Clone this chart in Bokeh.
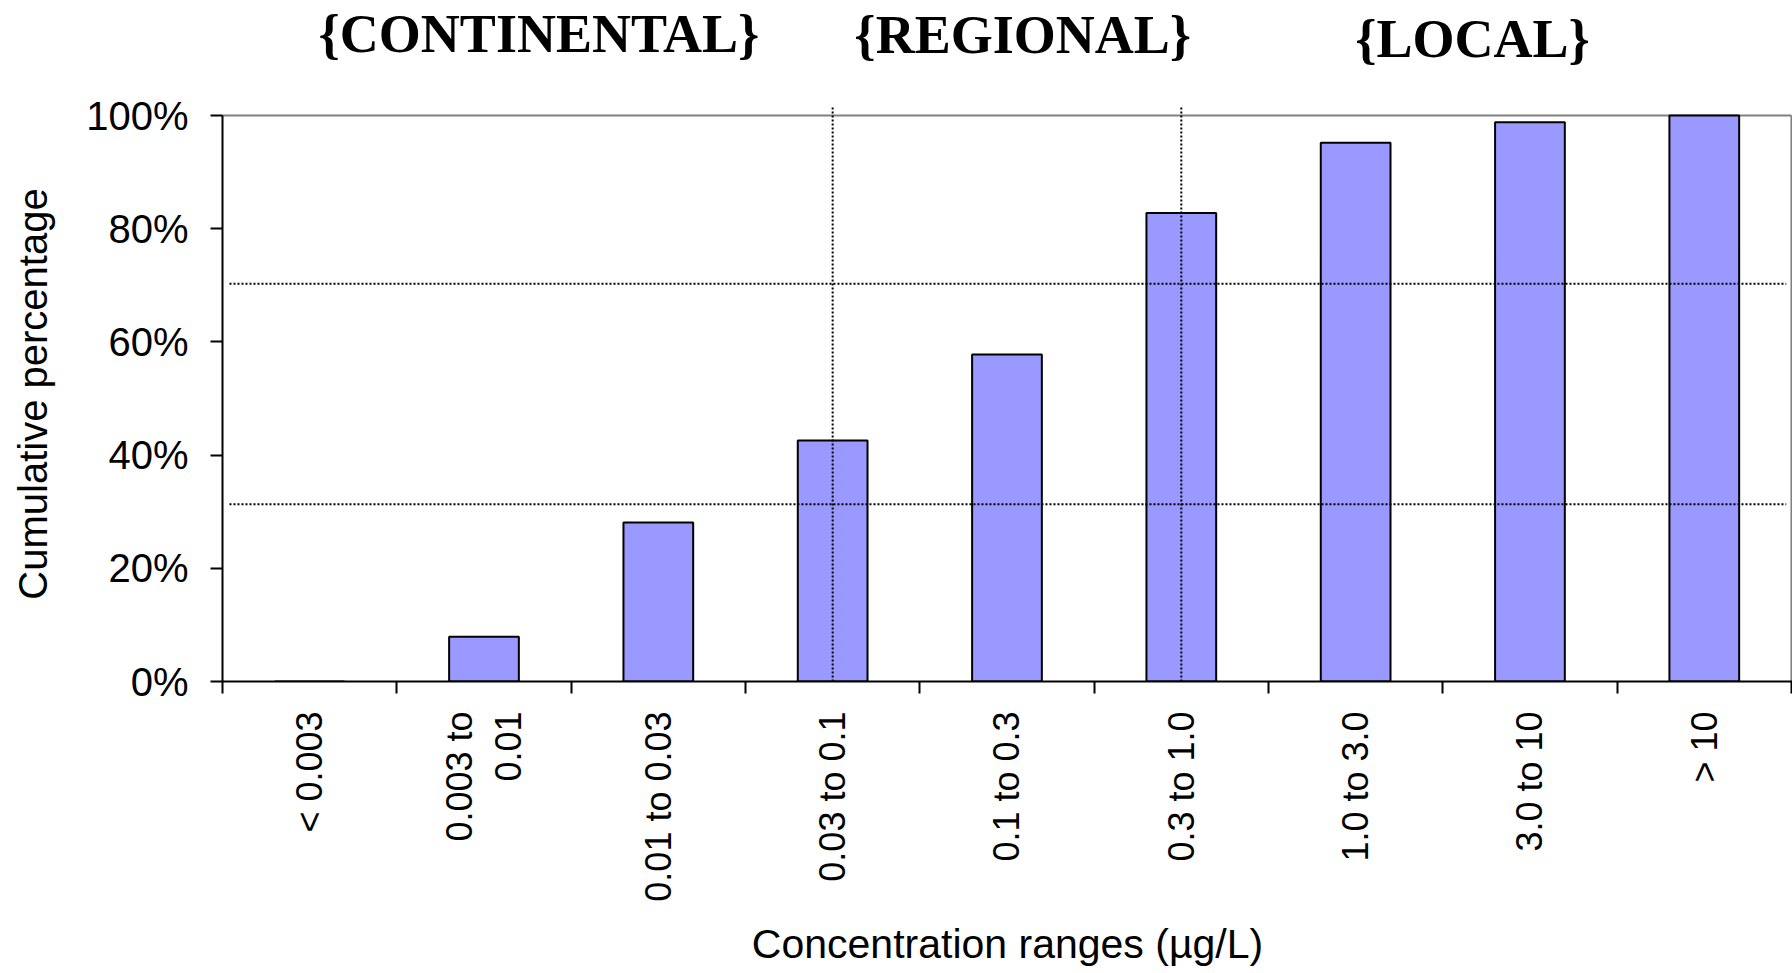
import math
from bokeh.plotting import figure
from bokeh.layouts import column
from bokeh.models import Range1d, FixedTicker, NumeralTickFormatter, ColumnDataSource
from bokeh.core.properties import value
from bokeh.embed import file_html
from bokeh.resources import INLINE

# ---------------- data ----------------
categories = ["< 0.003", "0.003 to\n0.01", "0.01 to 0.03", "0.03 to 0.1", "0.1 to 0.3",
              "0.3 to 1.0", "1.0 to 3.0", "3.0 to 10", "> 10"]
cumulative = [0.0, 0.079, 0.281, 0.426, 0.578, 0.828, 0.952, 0.988, 1.0]
y_ticks = [0.0, 0.2, 0.4, 0.6, 0.8, 1.0]
threshold_levels = [0.703, 0.313]
boundary_categories = ["0.03 to 0.1", "0.3 to 1.0"]
zone_names = ["{CONTINENTAL}", "{REGIONAL}", "{LOCAL}"]
zone_x = [1.815, 4.59, 7.17]
zone_y = [1.144, 1.142, 1.136]

# ---------------- derived positions ----------------
n = len(categories)
centers = [i + 0.5 for i in range(n)]
edges = [float(i) for i in range(n + 1)]
Y_TOP = 1.016       # vertical reference lines poke slightly above 100 %

x_range = Range1d(0, n + 0.006)

# ---------------- header strip ----------------
hdr = figure(width=1792, height=90, x_range=x_range, y_range=Range1d(1.0442, 1.2032),
             x_axis_type=None, y_axis_type=None, output_backend="svg", toolbar_location=None,
             min_border_left=222, min_border_right=0, min_border_top=0, min_border_bottom=0)
hdr.outline_line_color = None
hdr.background_fill_color = "white"
hdr.border_fill_color = "white"
hdr.text(x=zone_x, y=zone_y, text=zone_names, text_align="center", text_baseline="alphabetic",
         text_font=value("Liberation Serif"), text_font_style="bold",
         text_font_size=value("54px"), text_color="black")

# ---------------- main chart ----------------
src = ColumnDataSource(dict(x=centers, top=cumulative))

p = figure(width=1792, height=883,
           x_range=x_range, y_range=Range1d(0, Y_TOP),
           output_backend="svg", toolbar_location=None,
           min_border_left=222, min_border_right=0, min_border_top=16, min_border_bottom=292)
p.outline_line_color = None
p.xgrid.visible = False
p.ygrid.visible = False
p.background_fill_color = "white"
p.border_fill_color = "white"

# plot-area border (top and right, grey)
p.segment(x0=[0.0], y0=[1.0], x1=[float(n)], y1=[1.0], line_color="#808080", line_width=2)
p.segment(x0=[float(n)], y0=[0.0], x1=[float(n)], y1=[1.0], line_color="#808080", line_width=2)

# bars
p.vbar(x="x", top="top", width=0.4, source=src, fill_color="#9999FF",
       line_color="black", line_width=2)

# dotted reference lines
p.segment(x0=[0.04] * len(threshold_levels), y0=threshold_levels,
          x1=[n - 0.03] * len(threshold_levels), y1=threshold_levels,
          line_color="black", line_width=2, line_dash="2 2")
vx = [centers[categories.index(c)] for c in boundary_categories]
p.segment(x0=vx, y0=[0.0] * len(vx), x1=vx, y1=[Y_TOP] * len(vx),
          line_color="black", line_width=2, line_dash="2 2")

# y axis
ya = p.yaxis[0]
ya.ticker = FixedTicker(ticks=y_ticks)
ya.formatter = NumeralTickFormatter(format="0%")
ya.bounds = (0, 1)
ya.axis_line_width = 2
ya.axis_line_color = "black"
ya.major_tick_line_width = 2
ya.major_tick_line_color = "black"
ya.major_tick_out = 12
ya.major_tick_in = 0
ya.minor_tick_line_color = None
ya.major_label_text_font = "Liberation Sans"
ya.major_label_text_font_size = "40px"
ya.major_label_text_color = "black"
ya.major_label_standoff = 22
ya.axis_label = "Cumulative percentage"
ya.axis_label_text_font = "Liberation Sans"
ya.axis_label_text_font_style = "normal"
ya.axis_label_text_font_size = "40px"
ya.axis_label_text_color = "black"
ya.axis_label_standoff = 28

# x axis
xa = p.xaxis[0]
xa.ticker = FixedTicker(ticks=centers, minor_ticks=edges)
xa.major_label_overrides = {c: lab for c, lab in zip(centers, categories)}
xa.axis_line_width = 2
xa.axis_line_color = "black"
xa.major_tick_line_color = None
xa.major_tick_out = 0
xa.major_tick_in = 0
xa.minor_tick_line_color = "black"
xa.minor_tick_line_width = 2
xa.minor_tick_out = 12
xa.minor_tick_in = 0
xa.major_label_orientation = math.pi / 2
xa.major_label_text_font = "Liberation Sans"
xa.major_label_text_font_size = "36px"
xa.major_label_text_color = "black"
xa.major_label_standoff = 18
xa.axis_label = "Concentration ranges (µg/L)"
xa.axis_label_text_font = "Liberation Sans"
xa.axis_label_text_font_style = "normal"
xa.axis_label_text_font_size = "41px"
xa.axis_label_text_color = "black"
xa.axis_label_standoff = 16

layout = column(hdr, p, spacing=0)
open("out.html", "w").write(file_html(layout, INLINE))
